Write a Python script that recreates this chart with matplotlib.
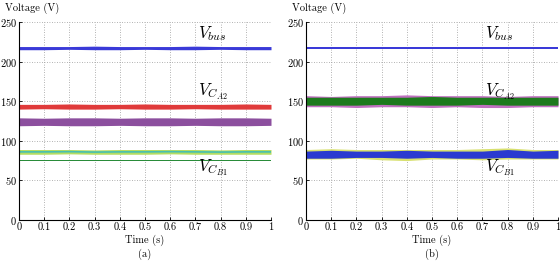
import matplotlib
matplotlib.use("Agg")
import matplotlib.pyplot as plt

plt.rcParams['font.family'] = ['cmr10', 'DejaVu Serif']
plt.rcParams['mathtext.fontset'] = 'cm'
plt.rcParams['axes.formatter.use_mathtext'] = True

t = [0.0, 0.1, 0.2, 0.3, 0.4, 0.5, 0.6, 0.7, 0.8, 0.9, 1.0]

# (a) envelopes (lower, upper) in volts
a_bus_lo = [215, 215, 215.5, 215, 215, 215.5, 215, 215, 215.5, 215, 215]
a_bus_hi = [219, 219, 219, 219.5, 219, 219, 219, 219.5, 219, 219, 219]
a_red_lo = [140, 140.5, 140, 140, 140.5, 140, 140, 140.5, 140, 140, 140]
a_red_hi = [146, 146, 146.5, 146, 146, 146.5, 146, 146, 146, 146.5, 146]
a_pur_lo = [119, 119.5, 119, 119, 119.5, 119, 119, 119.5, 119, 119, 119.5]
a_pur_hi = [129, 128.5, 129, 129, 128.5, 129, 129, 128.5, 129, 129, 128.5]
a_yel_lo = [83, 83, 83.5, 83, 83, 83, 83.5, 83, 83, 83, 83]
a_yel_hi = [89, 89, 89, 88.5, 89, 89, 89, 89, 88.5, 89, 89]
a_grn_lo = [74, 74, 74, 74, 74, 74, 74, 74, 74, 74, 74]
a_grn_hi = [76, 76, 76, 76, 76, 76, 76, 76, 76, 76, 76]

# (b) envelopes
b_bus_lo = [215.5, 215.5, 215.5, 215.5, 215.5, 215.5, 215.5, 215.5, 215.5, 215.5, 215.5]
b_bus_hi = [218.5, 218.5, 218.5, 218.5, 218.5, 218.5, 218.5, 218.5, 218.5, 218.5, 218.5]
b_mag_lo = [143, 143, 142, 143, 143, 142, 143, 142, 142, 143, 143]
b_mag_hi = [157, 156, 157, 157, 158, 157, 157, 157, 156, 157, 157]
b_ca2_lo = [145, 145, 145, 146, 145, 145, 145, 146, 145, 145, 145]
b_ca2_hi = [155, 155, 155, 155, 155, 156, 155, 155, 155, 155, 155]
b_yel_lo = [77, 77, 78, 76, 75, 77, 77, 76, 77, 77, 77]
b_yel_hi = [89, 90, 89, 89, 89, 89, 89, 90, 91, 89, 89]
b_cb1_lo = [78, 78, 79, 79, 78, 79, 78, 78, 79, 78, 78]
b_cb1_hi = [87, 88, 87, 87, 88, 87, 87, 87, 89, 87, 88]

xticks = [0, 0.1, 0.2, 0.3, 0.4, 0.5, 0.6, 0.7, 0.8, 0.9, 1]
xlabels = ['0', '0.1', '0.2', '0.3', '0.4', '0.5', '0.6', '0.7', '0.8', '0.9', '1']
yticks = [0, 50, 100, 150, 200, 250]

fig = plt.figure(figsize=(5.6, 2.61), dpi=100)
ax1 = fig.add_axes([19/560, 41/261, 252/560, 198/261])
ax2 = fig.add_axes([306/560, 41/261, 252/560, 198/261])


def style(ax, tag, x0):
    ax.set_xlim(0, 1)
    ax.set_ylim(0, 250)
    ax.set_xticks(xticks)
    ax.set_xticklabels(xlabels)
    ax.set_yticks(yticks)
    ax.tick_params(direction='in', length=2, width=0.6, labelsize=7.5, pad=1.5)
    ax.grid(True, linestyle=(0, (1, 2)), color='#999999', linewidth=0.6)
    ax.spines['top'].set_visible(False)
    ax.spines['right'].set_visible(False)
    for s in ('left', 'bottom'):
        ax.spines[s].set_linewidth(0.8)
    ax.set_axisbelow(True)
    cx = (x0 + 126) / 560
    fig.text(cx, 1 - 240/261, 'Time (s)', fontsize=7.5, ha='center', va='center')
    fig.text(cx, 1 - 254/261, tag, fontsize=7.5, ha='center', va='center')
    fig.text((x0 - 14)/560, 1 - 8/261, 'Voltage (V)', fontsize=7.5, ha='left', va='center')


# panel (a)
ax1.fill_between(t, a_bus_lo, a_bus_hi, color='#3a3ad8', lw=0)
ax1.fill_between(t, a_red_lo, a_red_hi, color='#e03a3a', lw=0)
ax1.fill_between(t, a_pur_lo, a_pur_hi, color='#8c4f9e', lw=0)
ax1.fill_between(t, a_yel_lo, a_yel_hi, color='#b5dc62', lw=0)
ax1.plot(t, [(l + h) / 2 for l, h in zip(a_yel_lo, a_yel_hi)], color='#48c0b0', lw=1.2)
ax1.fill_between(t, a_grn_lo, a_grn_hi, color='#2a8c3a', lw=0)
ax1.text(0.71, 229, r'$V_{bus}$', fontsize=12)
ax1.text(0.71, 157, r'$V_{C_{A2}}$', fontsize=12)
ax1.text(0.71, 62, r'$V_{C_{B1}}$', fontsize=12)
style(ax1, '(a)', 19)

# panel (b)
ax2.fill_between(t, b_bus_lo, b_bus_hi, color='#3a3ad8', lw=0)
ax2.fill_between(t, b_mag_lo, b_mag_hi, color='#c070c0', lw=0)
ax2.fill_between(t, b_ca2_lo, b_ca2_hi, color='#1d7a1d', lw=0)
ax2.fill_between(t, b_yel_lo, b_yel_hi, color='#d8e070', lw=0)
ax2.fill_between(t, b_cb1_lo, b_cb1_hi, color='#2a3ad0', lw=0)
ax2.text(0.71, 229, r'$V_{bus}$', fontsize=12)
ax2.text(0.71, 157, r'$V_{C_{A2}}$', fontsize=12)
ax2.text(0.71, 62, r'$V_{C_{B1}}$', fontsize=12)
style(ax2, '(b)', 306)

plt.savefig('out.png', dpi=100)
